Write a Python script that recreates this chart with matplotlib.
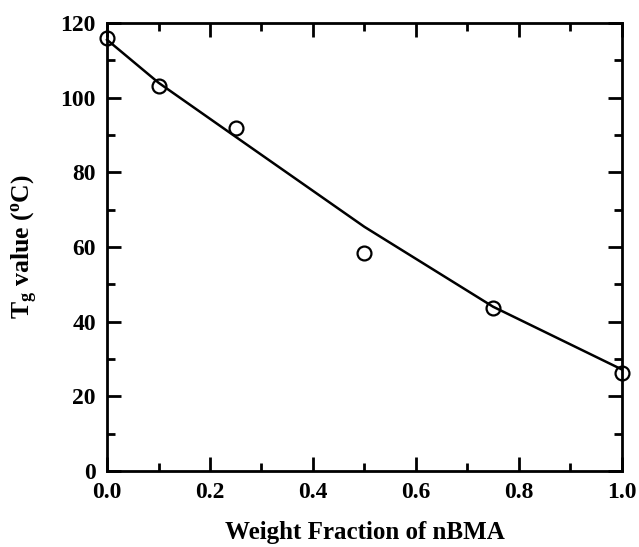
import matplotlib.pyplot as plt
from matplotlib.ticker import MultipleLocator

plt.rcParams['font.family'] = 'Liberation Serif'
plt.rcParams['font.weight'] = 'bold'
plt.rcParams['mathtext.fontset'] = 'custom'
plt.rcParams['mathtext.rm'] = 'Liberation Serif:bold'
plt.rcParams['mathtext.bf'] = 'Liberation Serif:bold'
plt.rcParams['mathtext.it'] = 'Liberation Serif:bold'

# measured Tg values
frac_meas = [0.0, 0.1, 0.25, 0.5, 0.75, 1.0]
tg_meas = [116, 103, 92, 58.4, 43.7, 26.3]

# fitted curve
frac_fit = [0.0, 0.1, 0.25, 0.5, 0.75, 1.0]
tg_fit = [115.5, 104, 89.5, 65.4, 44, 27.2]

fig = plt.figure(figsize=(6.39, 5.47), dpi=100)
ax = fig.add_axes([0.1675, 0.139, 0.8055, 0.819])

ax.plot(frac_fit, tg_fit, color='black', lw=1.8, clip_on=False)
ax.plot(frac_meas, tg_meas, 'o', mfc='none', mec='black', ms=10, mew=1.6, clip_on=False)

ax.set_xlim(0, 1.0)
ax.set_ylim(0, 120)
ax.xaxis.set_major_locator(MultipleLocator(0.2))
ax.xaxis.set_minor_locator(MultipleLocator(0.1))
ax.yaxis.set_major_locator(MultipleLocator(20))
ax.yaxis.set_minor_locator(MultipleLocator(10))
ax.tick_params(which='both', direction='in', top=True, right=True, width=2, labelsize=17)
ax.tick_params(which='major', length=10)
ax.tick_params(which='minor', length=6)
ax.tick_params(axis='x', which='major', pad=8)
ax.tick_params(axis='y', which='major', pad=8)
ax.set_xticks([0, 0.2, 0.4, 0.6, 0.8, 1.0])
ax.set_xticklabels(['0.0', '0.2', '0.4', '0.6', '0.8', '1.0'])
for s in ax.spines.values():
    s.set_linewidth(2)

ax.set_xlabel('Weight Fraction of nBMA', fontsize=18, fontweight='bold', labelpad=13)
ax.set_ylabel(r'T$_{\mathrm{g}}$ value ($^{\mathrm{o}}$C)', fontsize=18.5, fontweight='bold', labelpad=15)

fig.savefig('out.png', dpi=100)
